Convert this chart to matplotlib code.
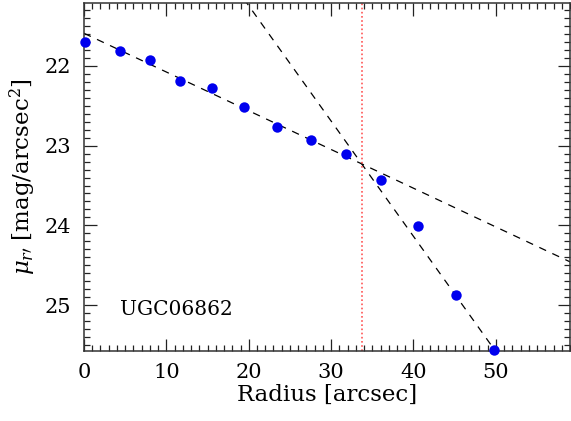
import numpy as np
import matplotlib
matplotlib.use("Agg")
import matplotlib.pyplot as plt
from matplotlib.ticker import MultipleLocator

plt.rcParams['font.family'] = ['DejaVu Serif']
plt.rcParams['mathtext.fontset'] = 'dejavuserif'

# surface brightness profile
radius = [0.1, 4.4, 8.0, 11.65, 15.5, 19.4, 23.4, 27.5, 31.8, 36.1, 40.6, 45.1, 49.8]
mu_r = [21.70, 21.81, 21.92, 22.19, 22.28, 22.52, 22.77, 22.93, 23.11, 23.43, 24.01, 24.87, 25.56]

# inner / outer exponential fits: mu = mu0 + slope * r
inner_mu0, inner_slope = 21.59, 0.0486
outer_mu0, outer_slope = 18.35, 0.1447
r_break = 33.8
galaxy = "UGC06862"

fig = plt.figure(figsize=(5.71, 4.21), dpi=100)
ax = fig.add_axes([84/571, 1 - 350.5/421, 486/571, 347.5/421])

rr = np.array([0, 60])
ax.plot(rr, inner_mu0 + inner_slope*rr, color='black', lw=0.9, dashes=[6, 5.5])
ax.plot(rr, outer_mu0 + outer_slope*rr, color='black', lw=0.9, dashes=[6, 5.5])
ax.axvline(r_break, color='#ff5555', lw=1.2, ls=(0, (1, 1.5)))
ax.plot(radius, mu_r, 'o', color='#0000ee', ms=7.5, mec='none', clip_on=False, zorder=5)

ax.text(4.4, 25.05, galaxy, fontsize=14.5, va='center', ha='left')

ax.set_xlim(0, 59)
ax.set_ylim(25.57, 21.21)
ax.xaxis.set_major_locator(MultipleLocator(10))
ax.xaxis.set_minor_locator(MultipleLocator(1))
ax.yaxis.set_major_locator(MultipleLocator(1))
ax.yaxis.set_minor_locator(MultipleLocator(0.1))
ax.tick_params(which='both', direction='in', top=True, right=True, width=0.9, labelsize=15, colors='#222222')
ax.tick_params(which='major', length=9, pad=9)
ax.tick_params(which='minor', length=4.5)
for lab in ax.get_xticklabels() + ax.get_yticklabels():
    lab.set_color('black')
for sp in ax.spines.values():
    sp.set_linewidth(1.1)
    sp.set_color('#333333')

ax.set_xlabel('Radius [arcsec]', fontsize=16.5, labelpad=1)
ax.set_ylabel(r"$\mu_{r\prime}$ [mag/arcsec$^2$]", fontsize=16.5, labelpad=5)

fig.savefig('out.png', dpi=100)
